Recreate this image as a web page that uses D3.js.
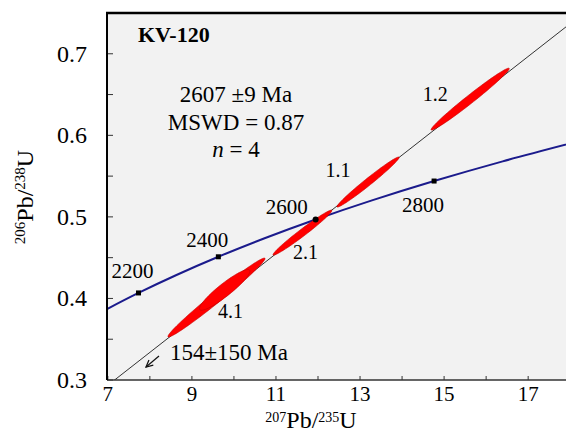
<!DOCTYPE html>
<html>
<head>
<meta charset="utf-8">
<script src="https://d3js.org/d3.v7.min.js"></script>
<style>
  html, body { margin: 0; padding: 0; background: #fff; }
  svg { display: block; font-family: "Liberation Serif", "Times New Roman", serif; }
</style>
</head>
<body>
<div id="chart"></div>
<script>
// concordia, ages in Ma
var concAges = [2100, 2200, 2300, 2400, 2500, 2600, 2700, 2800, 2900, 3000];
var concX = [6.9105, 7.7292, 8.6328, 9.6294, 10.7296, 11.9437, 13.2835, 14.7616, 16.3938, 18.1931];
var concY = [0.3851, 0.40675, 0.42874, 0.45108, 0.47376, 0.49679, 0.52019, 0.54396, 0.5681, 0.59262];
var markerAges = [2200, 2400, 2600, 2800];

// discordia
var discX = [7.16, 17.9];
var discY = [0.300, 0.733];

// spots: centre, half range (x, y), correlation
var spotNames = ["4.1", "", "2.1", "1.1", "1.2"];
var spotX = [9.585, 9.78, 11.63, 13.19, 15.62];
var spotY = [0.4011, 0.4105, 0.4807, 0.5427, 0.6444];
var spotSx = [1.155, 0.60, 0.70, 0.74, 0.93];
var spotSy = [0.0484, 0.0250, 0.0276, 0.0307, 0.038];
var spotRho = [0.9866, 0.92, 0.981, 0.984, 0.986];

var xTicks = [7, 9, 11, 13, 15, 17];
var xMinor = [8, 10, 12, 14, 16];
var yTicks = [0.3, 0.4, 0.5, 0.6, 0.7];
var yMinor = [0.35, 0.45, 0.55, 0.65];

var W = 566, H = 434;
var L = 107, R = 566, T = 13, B = 380;

var x = d3.scaleLinear().domain([6.98, 17.9]).range([L, R]);
var y = d3.scaleLinear().domain([0.3, 0.75]).range([B, T]);

var svg = d3.select("#chart").append("svg").attr("width", W).attr("height", H);

svg.append("defs").append("clipPath").attr("id", "clip")
  .append("rect").attr("x", L).attr("y", T).attr("width", R - L).attr("height", B - T);
var mk = svg.select("defs").append("marker").attr("id", "arr")
  .attr("viewBox", "0 0 10 10").attr("refX", 9).attr("refY", 5)
  .attr("markerWidth", 7).attr("markerHeight", 7).attr("orient", "auto");
mk.append("path").attr("d", "M1,1 L9,5 L1,9").attr("fill", "none").attr("stroke", "#111").attr("stroke-width", 1.5);

svg.append("rect").attr("x", L).attr("y", T).attr("width", R - L).attr("height", B - T).attr("fill", "#f2f2f2");

var plot = svg.append("g").attr("clip-path", "url(#clip)");

// discordia
plot.append("line")
  .attr("x1", x(discX[0]) - 40 * (x(discX[1]) - x(discX[0])) / 1000)
  .attr("y1", y(discY[0]) - 40 * (y(discY[1]) - y(discY[0])) / 1000)
  .attr("x2", x(discX[1])).attr("y2", y(discY[1]))
  .attr("stroke", "#333").attr("stroke-width", 1);

// concordia
var conc = concAges.map(function(a, i) { return [concX[i], concY[i]]; });
plot.append("path").datum(conc)
  .attr("d", d3.line().x(function(d) { return x(d[0]); }).y(function(d) { return y(d[1]); }).curve(d3.curveCatmullRom))
  .attr("fill", "none").attr("stroke", "#1b1b8c").attr("stroke-width", 2);

// error ellipses
var ell = d3.line().curve(d3.curveLinearClosed);
spotX.forEach(function(cx, i) {
  var sx = spotSx[i], sy = spotSy[i], r = spotRho[i], q = Math.sqrt(1 - r * r);
  var pts = d3.range(0, 72).map(function(k) {
    var t = k / 72 * 2 * Math.PI;
    return [x(cx + sx * Math.cos(t)), y(spotY[i] + sy * (r * Math.cos(t) + q * Math.sin(t)))];
  });
  plot.append("path").attr("d", ell(pts))
    .attr("fill", "#ff0000").attr("stroke", "#c40000").attr("stroke-width", 0.6);
});

// age markers
markerAges.forEach(function(a) {
  var i = concAges.indexOf(a);
  var px = x(concX[i]), py = y(concY[i]);
  if (a === 2600) {
    svg.append("circle").attr("cx", px).attr("cy", py).attr("r", 3).attr("fill", "#000");
  } else {
    svg.append("rect").attr("x", px - 2.5).attr("y", py - 2.5).attr("width", 5).attr("height", 5).attr("fill", "#000");
  }
});

// labels
var ageOff = { 2200: [-6, -15], 2400: [-11, -10], 2600: [-29, -6], 2800: [-11, 31] };
markerAges.forEach(function(a) {
  var i = concAges.indexOf(a);
  svg.append("text").attr("x", x(concX[i]) + ageOff[a][0]).attr("y", y(concY[i]) + ageOff[a][1])
    .attr("text-anchor", "middle").attr("font-size", 21).text(a);
});
var spotOff = { "4.1": [14, 20], "2.1": [3, 26], "1.1": [-30, -5], "1.2": [-35, 2] };
spotNames.forEach(function(n, i) {
  if (!n) return;
  svg.append("text").attr("x", x(spotX[i]) + spotOff[n][0]).attr("y", y(spotY[i]) + spotOff[n][1])
    .attr("text-anchor", "middle").attr("font-size", 20).text(n);
});

svg.append("text").attr("x", 138).attr("y", 42).attr("font-size", 22).attr("font-weight", "bold").text("KV-120");
svg.append("text").attr("x", 236).attr("y", 102).attr("text-anchor", "middle").attr("font-size", 23).text("2607 \u00b19 Ma");
svg.append("text").attr("x", 236).attr("y", 130).attr("text-anchor", "middle").attr("font-size", 23).text("MSWD = 0.87");
var nt = svg.append("text").attr("x", 236).attr("y", 157).attr("text-anchor", "middle").attr("font-size", 23);
nt.append("tspan").attr("font-style", "italic").text("n");
nt.append("tspan").text(" = 4");

svg.append("text").attr("x", 170).attr("y", 360).attr("font-size", 23).text("154\u00b1150 Ma");
svg.append("line").attr("x1", 159).attr("y1", 356).attr("x2", 146).attr("y2", 367)
  .attr("stroke", "#111").attr("stroke-width", 1.2).attr("marker-end", "url(#arr)");

// axes
var g = svg.append("g");
xTicks.concat(xMinor).forEach(function(v) {
  g.append("line").attr("x1", x(v)).attr("x2", x(v)).attr("y1", B).attr("y2", B - 4).attr("stroke", "#333");
});
yTicks.concat(yMinor).forEach(function(v) {
  g.append("line").attr("x1", L).attr("x2", L + 6).attr("y1", y(v)).attr("y2", y(v)).attr("stroke", "#333");
});
xTicks.forEach(function(v) {
  g.append("text").attr("x", x(v)).attr("y", 401).attr("text-anchor", "middle").attr("font-size", 21).text(v);
});
yTicks.forEach(function(v) {
  g.append("text").attr("x", 87).attr("y", y(v) + 8).attr("text-anchor", "end").attr("font-size", 24).text(d3.format(".1f")(v));
});
g.append("line").attr("x1", L).attr("x2", R).attr("y1", B).attr("y2", B).attr("stroke", "#333").attr("stroke-width", 1.5);
g.append("line").attr("x1", L).attr("x2", L).attr("y1", T).attr("y2", B).attr("stroke", "#000").attr("stroke-width", 2);
g.append("line").attr("x1", L - 1).attr("x2", R).attr("y1", T).attr("y2", T).attr("stroke", "#000").attr("stroke-width", 2.5);

// axis titles
var xt = svg.append("text").attr("x", 311).attr("y", 428).attr("text-anchor", "middle").attr("font-size", 24);
xt.append("tspan").attr("font-size", 14).attr("dy", -6).text("207");
xt.append("tspan").attr("dy", 6).text("Pb/");
xt.append("tspan").attr("font-size", 14).attr("dy", -6).text("235");
xt.append("tspan").attr("dy", 6).text("U");

var yt = svg.append("text").attr("transform", "translate(33,197) rotate(-90)").attr("text-anchor", "middle").attr("font-size", 24);
yt.append("tspan").attr("font-size", 15).attr("dy", -8).text("206");
yt.append("tspan").attr("dy", 8).text("Pb/");
yt.append("tspan").attr("font-size", 15).attr("dy", -8).text("238");
yt.append("tspan").attr("dy", 8).text("U");
</script>
</body>
</html>
